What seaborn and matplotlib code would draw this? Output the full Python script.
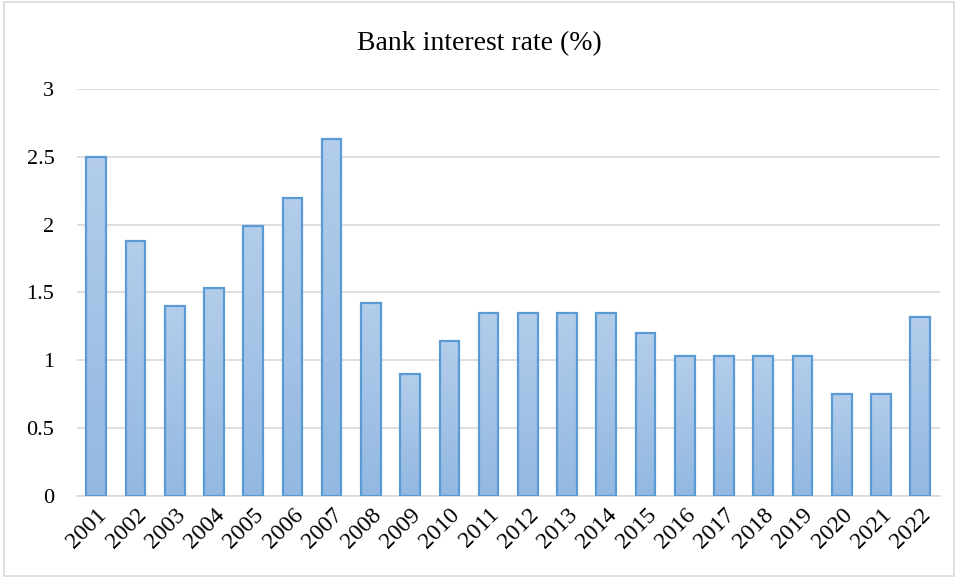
import numpy as np
import pandas as pd
import matplotlib
matplotlib.use("Agg")
import matplotlib.pyplot as plt
import seaborn as sns
from matplotlib.colors import LinearSegmentedColormap
from matplotlib.patches import Rectangle

years = [str(y) for y in range(2001, 2023)]
rates = [2.50, 1.88, 1.40, 1.53, 1.99, 2.20, 2.63, 1.42, 0.90, 1.14, 1.35,
         1.35, 1.35, 1.35, 1.20, 1.03, 1.03, 1.03, 1.03, 0.75, 0.75, 1.32]
yticks = [0, 0.5, 1, 1.5, 2, 2.5, 3]
ytick_labels = ["0", "0.5", "1", "1.5", "2", "2.5", "3"]

df = pd.DataFrame({"year": years, "rate": rates})

sns.set_theme(style="white")
plt.rcParams["font.family"] = ["Liberation Serif", "DejaVu Serif"]

fig = plt.figure(figsize=(9.58, 5.78), dpi=100)
ax = fig.add_axes([0.080, 0.142, 0.901, 0.704])

sns.barplot(data=df, x="year", y="rate", ax=ax, width=0.5,
            color="#a4c2e6", edgecolor="#5b9bd5", linewidth=1.6,
            saturation=1, zorder=3)

# vertical gradient fill inside each bar
grad = LinearSegmentedColormap.from_list("bar", ["#93b8e2", "#b3cdea"])
gimg = np.linspace(0, 1, 256).reshape(-1, 1)
for p in ax.patches:
    x0, y0 = p.get_x(), p.get_y()
    w, h = p.get_width(), p.get_height()
    im = ax.imshow(gimg, cmap=grad, origin="lower", aspect="auto",
                   extent=[x0, x0 + w, y0, y0 + h], zorder=3.5,
                   interpolation="bilinear")
    im.set_clip_path(p)
    p.set_zorder(4)
    p.set_facecolor("none")

ax.set_xlim(-0.5, len(years) - 0.5)
ax.set_ylim(0, 3)
ax.set_yticks(yticks)
ax.set_yticklabels(ytick_labels)
ax.set_xlabel("")
ax.set_ylabel("")

ax.yaxis.grid(True, color="#d9d9d9", linewidth=1.2, zorder=0)
ax.set_axisbelow(True)
for s in ["top", "right", "left"]:
    ax.spines[s].set_visible(False)
ax.spines["bottom"].set_color("#d9d9d9")
ax.spines["bottom"].set_linewidth(1.2)
ax.spines["bottom"].set_zorder(2)

ax.tick_params(axis="y", length=0, pad=16, labelsize=16, colors="black")
ax.tick_params(axis="x", length=0, pad=6, labelsize=17, colors="black")
for lab in ax.get_xticklabels():
    lab.set_rotation(45)
    lab.set_ha("right")
    lab.set_va("top")
    lab.set_rotation_mode("anchor")

fig.text(0.5, 0.924, "Bank interest rate (%)", ha="center", va="center",
         fontsize=20, color="black")

fig.patches.append(Rectangle((0.004, 0.004), 0.992, 0.992,
                             transform=fig.transFigure, fill=False,
                             edgecolor="#d9d9d9", linewidth=1.2))

fig.savefig("out.png", dpi=100)
